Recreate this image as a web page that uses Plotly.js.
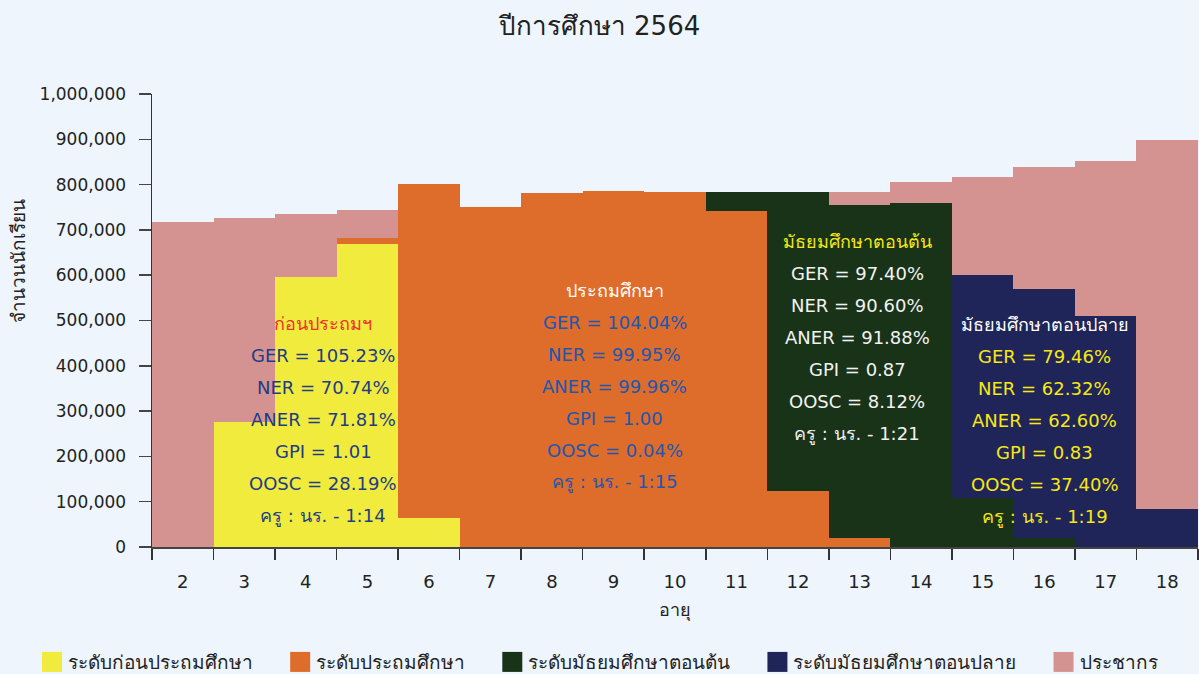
<!DOCTYPE html>
<html>
<head>
<meta charset="utf-8">
<script src="https://cdn.plot.ly/plotly-3.0.1.min.js"></script>
<style>
html,body{margin:0;padding:0;background:#EEF5FC;}
#chart{width:1199px;height:674px;}
</style>
</head>
<body>
<div id="chart"></div>
<script>
// ---- data ----
const ages = ['2','3','4','5','6','7','8','9','10','11','12','13','14','15','16','17','18'];
const population = [717000, 726000, 735000, 744000, 755000, 745000, 765000, 770000, 775000, 778000, 780000, 784000, 806000, 817000, 839000, 852000, 898000];
const prePrimary = [0, 277000, 597000, 669000, 64000, 0, 0, 0, 0, 0, 0, 0, 0, 0, 0, 0, 0];
const primary = [0, 0, 0, 682000, 801000, 750000, 781000, 786000, 784000, 742000, 124000, 20000, 0, 0, 0, 0, 0];
const lowerSec = [0, 0, 0, 0, 0, 0, 0, 0, 0, 784000, 784000, 755000, 759000, 109000, 20000, 0, 0];
const upperSec = [0, 0, 0, 0, 0, 0, 0, 0, 0, 0, 0, 25000, 120000, 600000, 570000, 510000, 83000];

const seriesNames = ['ระดับก่อนประถมศึกษา','ระดับประถมศึกษา','ระดับมัธยมศึกษาตอนต้น','ระดับมัธยมศึกษาตอนปลาย','ประชากร'];

const preLines = ['ก่อนประถมฯ','GER = 105.23%','NER = 70.74%','ANER = 71.81%','GPI = 1.01','OOSC = 28.19%','ครู : นร. - 1:14'];
const priLines = ['ประถมศึกษา','GER = 104.04%','NER = 99.95%','ANER = 99.96%','GPI = 1.00','OOSC = 0.04%','ครู : นร. - 1:15'];
const lowLines = ['มัธยมศึกษาตอนต้น','GER = 97.40%','NER = 90.60%','ANER = 91.88%','GPI = 0.87','OOSC = 8.12%','ครู : นร. - 1:21'];
const uppLines = ['มัธยมศึกษาตอนปลาย','GER = 79.46%','NER = 62.32%','ANER = 62.60%','GPI = 0.83','OOSC = 37.40%','ครู : นร. - 1:19'];

// ---- styles ----
const FONT = 'Tahoma, "DejaVu Sans", "Noto Sans", sans-serif';
const C = {yellow:'#F0EB3C', orange:'#DE6C2A', green:'#193318', navy:'#1F2558', pink:'#D49391'};
const PAD = '\u00A0\u00A0\u00A0';

function bar(name, y, color){
  return {type:'bar', x:ages, y:y, name:name + PAD, marker:{color:color, line:{width:0}}, width:1, hoverinfo:'x+y+name'};
}
const traces = [
  bar(seriesNames[4], population, C.pink),
  bar(seriesNames[3], upperSec, C.navy),
  bar(seriesNames[2], lowerSec, C.green),
  bar(seriesNames[1], primary, C.orange),
  bar(seriesNames[0], prePrimary, C.yellow)
];

const annotations = [];
function block(lines, xp, ytop, titleColor, textColor){
  const step = 32/453;
  lines.forEach((t,i)=>{
    annotations.push({xref:'paper', yref:'paper', x:xp, y:ytop - i*step, text:t, showarrow:false,
      xanchor:'center', yanchor:'middle',
      font:{family:FONT, size:18, color: i===0 ? titleColor : textColor}});
  });
}
block(preLines, 0.1635, 0.4923, '#EE3030', '#1D3C8A');
block(priLines, 0.4426, 0.5673, '#FFFFFF', '#2257B0');
block(lowLines, 0.674, 0.6733, '#F7E816', '#F2F2F2');
block(uppLines, 0.8537, 0.4901, '#FFFFFF', '#F7E816');

annotations.push({xref:'paper', yref:'paper', x:-0.128, y:0.631, text:'จำนวนนักเรียน', textangle:-90,
  showarrow:false, xanchor:'center', yanchor:'middle', font:{family:FONT, size:19, color:'#222'}});

const layout = {
  width:1199, height:674,
  paper_bgcolor:'#EEF5FC', plot_bgcolor:'#EEF5FC',
  margin:{l:152, r:1, t:94, b:127, autoexpand:false},
  barmode:'overlay', bargap:0,
  title:{text:'ปีการศึกษา 2564', x:0.5, xref:'container', y:0.962, yref:'container', yanchor:'middle',
    font:{family:FONT, size:26, color:'#222'}},
  xaxis:{type:'category', tickson:'boundaries', ticks:'outside', ticklen:11, tickcolor:'#333', tickwidth:1.5,
    showline:true, linecolor:'#444', linewidth:1.5, showgrid:false, zeroline:false,
    ticklabelstandoff:18,
    tickfont:{family:FONT, size:18, color:'#222'},
    title:{text:'อายุ', standoff:12, font:{family:FONT, size:18, color:'#222'}}},
  yaxis:{range:[0,1000000], tickvals:[0,100000,200000,300000,400000,500000,600000,700000,800000,900000,1000000],
    tickformat:',d', ticks:'outside', ticklen:12, tickcolor:'#444', tickwidth:1.5,
    showline:true, linecolor:'#333', linewidth:1.5, showgrid:false, zeroline:false,
    ticklabelstandoff:9,
    tickfont:{family:FONT, size:17, color:'#222'}},
  legend:{orientation:'h', traceorder:'reversed', x:-0.1185, xref:'paper', xanchor:'left', y:-0.254, yref:'paper', yanchor:'middle',
    font:{family:FONT, size:19, color:'#222'}, itemwidth:30, bgcolor:'rgba(0,0,0,0)'},
  annotations:annotations,
  showlegend:true
};

Plotly.newPlot('chart', traces, layout, {displayModeBar:false, staticPlot:true}).then(function(gd){
  // enlarge legend swatches to match the reference's square keys
  gd.querySelectorAll('.legend .legendpoints path').forEach(function(p){
    p.setAttribute('d','M14,10H-6V-10H14Z');
  });
});
</script>
</body>
</html>
